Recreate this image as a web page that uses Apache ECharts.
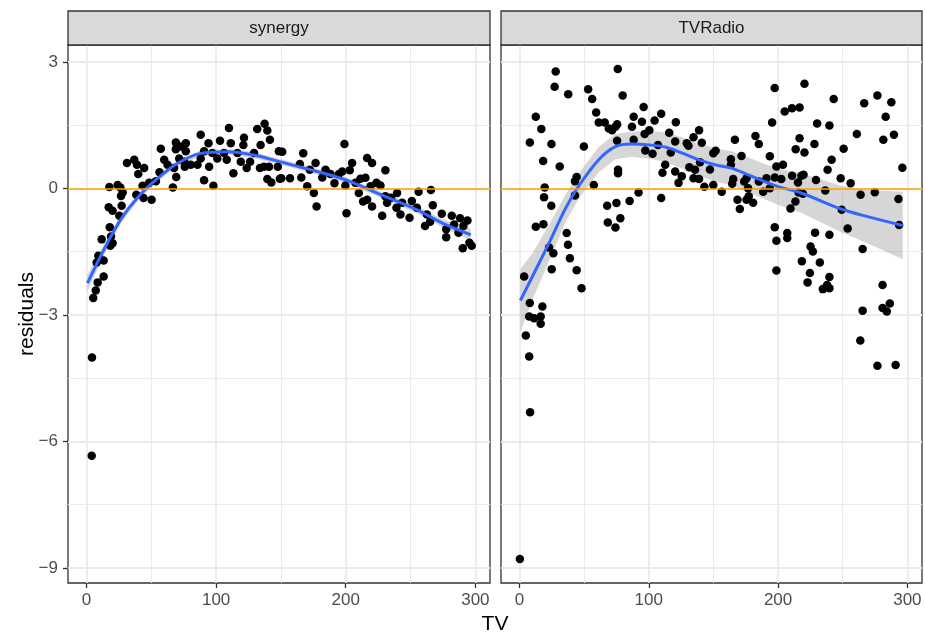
<!DOCTYPE html>
<html><head><meta charset="utf-8">
<script src="https://cdn.jsdelivr.net/npm/echarts@6/dist/echarts.min.js"></script>
<style>html,body{margin:0;padding:0;background:#fff}#c{width:925px;height:633px}</style>
</head><body><div id="c"></div>
<script>
// ---------- data ----------
const panelNames = ['synergy', 'TVRadio'];
const xTicks = [0, 100, 200, 300];
const xMinorTicks = [50, 150, 250];
const yTicks = [-9, -6, -3, 0, 3];
const yMinorTicks = [-7.5, -4.5, -1.5, 1.5];
const refLineValue = 0;

const synergyTV = [5.2,7.1,8.6,13.2,7.8,9.1,13.2,11.7,18.3,20.1,18.9,17.9,17.1,20.1,25.3,27.1,26.6,27.9,17.6,24.0,26.1,31.2,36.8,38.9,44.5,39.9,38.4,44.0,50.2,43.2,48.3,53.5,56.3,57.3,59.9,62.5,66.6,69.2,67.6,68.9,68.9,72.8,76.6,76.6,71.5,75.3,75.8,80.4,85.6,88.1,88.1,90.7,90.7,94.1,94.6,97.1,97.9,100.9,103.0,106.1,108.2,109.9,111.3,113.3,116.4,119.0,121.0,121.5,123.6,126.2,129.2,131.7,134.3,133.8,137.4,139.5,141.5,136.9,140.8,139.5,142.6,148.4,147.6,149.2,151.0,150.3,157.0,167.2,164.6,165.7,170.3,172.3,175.4,177.5,176.7,181.9,184.4,188.2,191.3,194.7,197.3,199.0,200.6,199.7,203.1,204.9,207.5,210.1,211.3,215.2,216.5,220.3,219.1,213.4,216.5,220.3,223.7,226.8,230.6,230.6,228.1,231.9,235.0,239.6,239.1,242.2,243.5,249.2,251.0,254.9,256.2,265.7,262.6,267.2,265.1,261.2,274.1,277.5,277.5,281.8,283.6,288.2,290.8,293.9,290.3,295.4,297.2,287.0,4.0,4.2];
const synergyRes = [-2.60,-2.42,-2.23,-2.09,-1.76,-1.60,-1.71,-1.21,-1.36,-1.30,-1.14,-0.92,-0.45,-0.53,-0.65,-0.41,-0.18,-0.10,0.03,0.08,0.02,0.60,0.68,0.56,0.48,0.34,-0.15,-0.23,-0.27,0.06,0.13,0.17,0.38,0.94,0.68,0.56,0.02,0.27,0.48,1.09,0.93,0.99,1.07,0.88,0.71,0.63,0.51,0.56,0.56,1.27,0.71,0.88,0.19,1.07,0.51,0.84,0.06,0.71,1.13,0.84,0.68,1.43,1.07,0.36,0.84,0.63,1.03,1.20,0.48,0.63,0.84,1.41,1.03,0.48,1.53,1.37,1.15,0.51,0.51,0.22,0.14,0.88,0.51,0.23,0.87,0.24,0.24,0.83,0.58,0.26,0.05,0.44,-0.11,-0.43,0.60,0.26,0.44,0.34,0.12,0.34,0.40,1.05,-0.59,0.07,0.43,0.60,0.13,-0.11,0.23,0.25,0.72,0.60,0.05,-0.31,-0.27,-0.43,0.13,0.07,0.43,-0.19,-0.65,-0.34,-0.22,-0.11,-0.46,-0.62,-0.34,-0.70,-0.30,-0.46,-0.08,-0.04,-0.62,-0.40,-0.79,-0.89,-0.60,-0.97,-1.16,-0.65,-0.86,-0.71,-0.89,-0.76,-1.42,-1.29,-1.36,-1.05,-6.34,-4.01];

const tvradioTV = [4.9,7.5,8.0,11.3,16.4,16.4,17.7,3.6,24.9,22.9,26.2,36.5,37.5,39.0,44.2,48.0,12.6,18.5,24.6,19.0,19.5,42.9,42.9,44.2,57.5,31.1,18.3,8.0,24.7,16.9,12.6,28.0,27.2,37.7,49.8,53.1,56.2,59.3,61.3,65.9,69.1,71.6,74.2,75.5,75.5,76.2,76.2,67.8,75.0,68.3,74.2,78.0,85.2,76.0,79.8,88.3,87.0,88.3,92.1,7.5,8.2,0.3,96.0,94.7,96.8,100.4,97.3,102.9,104.5,109.6,109.6,107.1,112.7,110.6,120.9,115.8,120.4,117.0,120.4,125.5,123.0,129.4,130.7,134.6,138.9,141.0,131.4,135.8,139.6,134.6,138.9,143.0,147.3,149.9,151.7,149.9,156.4,163.5,163.5,166.6,171.7,165.3,164.5,168.6,170.4,175.6,173.8,176.8,175.6,180.7,177.3,182.5,185.1,185.1,188.5,191.0,193.6,193.6,195.4,197.4,197.4,198.7,197.4,198.7,198.7,220.4,205.1,210.8,216.6,216.6,213.6,220.4,228.1,230.2,239.7,243.0,250.7,260.9,266.6,276.8,287.6,283.2,289.6,281.4,296.1,203.8,202.5,210.8,218.0,215.4,219.7,229.3,238.3,241.4,248.4,256.1,236.5,215.9,219.2,213.4,209.6,263.8,274.8,293.1,249.2,253.8,293.6,207.1,207.1,228.6,239.7,225.1,226.9,265.4,218.4,232.3,224.6,222.8,239.7,237.9,234.6,239.7,280.8,265.4,280.8,284.1,286.4,263.6,276.8,290.9];
const tvradioRes = [-3.49,-3.04,-2.72,-3.08,-3.04,-3.21,-2.80,-2.09,-1.92,-1.40,-1.54,-1.06,-1.34,-1.66,-1.94,-2.37,-0.91,-0.85,-0.41,-0.21,0.02,-0.17,0.17,0.27,0.08,0.52,0.65,1.09,1.05,1.41,1.70,2.77,2.41,2.23,0.99,2.35,2.12,1.80,1.56,1.56,1.42,1.38,1.46,1.52,1.13,0.44,0.36,-0.41,-0.35,-0.81,-0.93,-0.71,-0.30,2.83,2.20,1.70,1.46,1.15,-0.10,-3.99,-5.31,-8.79,1.93,1.58,1.29,1.38,0.90,0.82,1.61,1.77,-0.23,1.03,0.56,0.37,1.57,1.32,1.11,0.85,0.40,0.29,0.13,1.07,1.01,1.21,1.38,1.08,0.50,0.44,0.62,0.24,0.22,0.04,0.45,0.83,0.89,0.08,-0.08,0.69,0.56,1.15,0.77,0.22,0.11,-0.27,-0.49,0.24,0.16,0.00,-0.27,-0.34,-0.19,1.24,1.05,0.16,-0.08,0.24,0.76,0.00,1.56,2.38,0.26,0.52,-0.92,-1.24,-1.95,2.48,1.82,1.90,1.92,1.19,0.93,0.85,1.05,1.54,1.49,2.12,0.94,1.29,2.02,2.20,2.04,1.70,1.27,1.15,0.49,0.56,0.22,0.30,0.30,0.14,0.32,0.20,0.44,0.68,0.24,0.12,-0.05,-0.10,-0.13,-0.31,-0.48,-0.15,-0.09,-0.25,-0.51,-0.95,-0.87,-1.06,-1.18,-1.05,-1.10,-1.38,-1.50,-1.44,-1.73,-1.76,-2.01,-2.23,-2.10,-2.29,-2.39,-2.37,-2.29,-2.90,-2.84,-2.92,-2.73,-3.61,-4.21,-4.19];

// smoother (loess fit and confidence band)
const synergySmoothTV = [0.7,14,27,40,55,70,88,109,129,148,168,200,227,255,275,296.4];
const synergyFit = [-2.25,-1.42,-0.71,-0.20,0.24,0.59,0.83,0.87,0.79,0.64,0.48,0.20,-0.15,-0.51,-0.83,-1.10];
const synergyLo  = [-2.45,-1.55,-0.81,-0.28,0.17,0.52,0.76,0.80,0.72,0.57,0.41,0.13,-0.22,-0.59,-0.93,-1.24];
const synergyHi  = [-2.05,-1.29,-0.61,-0.12,0.31,0.66,0.90,0.94,0.86,0.71,0.55,0.27,-0.08,-0.43,-0.73,-0.96];

const tvradioSmoothTV = [0.7,10,22.8,35.7,45.9,61.3,74.2,87,100.4,112.7,125.5,138.3,151.2,163.9,176.8,189.6,199.9,217.9,248.7,269.2,296.4];
const tvradioFit = [-2.66,-2.09,-1.30,-0.47,0.06,0.68,0.99,1.05,1.03,0.98,0.84,0.68,0.56,0.48,0.32,0.16,0.04,-0.11,-0.49,-0.67,-0.88];
const tvradioLo  = [-3.41,-2.64,-1.73,-0.80,-0.24,0.38,0.69,0.75,0.70,0.63,0.47,0.30,0.16,0.08,-0.09,-0.26,-0.39,-0.58,-1.04,-1.30,-1.68];
const tvradioHi  = [-1.91,-1.54,-0.87,-0.14,0.36,0.98,1.29,1.35,1.36,1.33,1.21,1.06,0.96,0.88,0.73,0.58,0.47,0.36,0.06,-0.04,-0.08];

const xLimits = [-14.3, 311.3];
const yLimits = [-9.36, 3.40];

// ---------- layout / style ----------
const FONT = "'Liberation Sans', Arial, Helvetica, sans-serif";
const PANEL_TOP = 45, PANEL_H = 538, STRIP_TOP = 11;
const panelsLayout = [{left: 68, width: 422}, {left: 501, width: 421}];
const DARK = '#333333', GRIDC = '#EBEBEB';

const fmt = v => (v < 0 ? '\u2212' + Math.abs(v) : String(v));

const panelsData = [
  {tv: synergyTV, res: synergyRes, sx: synergySmoothTV, fit: synergyFit, lo: synergyLo, hi: synergyHi},
  {tv: tvradioTV, res: tvradioRes, sx: tvradioSmoothTV, fit: tvradioFit, lo: tvradioLo, hi: tvradioHi}
];

const grid = [], xAxis = [], yAxis = [], series = [], graphic = [];

panelsLayout.forEach((p, i) => {
  grid.push({left: p.left, top: PANEL_TOP, width: p.width, height: PANEL_H,
    show: true, borderColor: DARK, borderWidth: 1.3, backgroundColor: '#fff'});
  // major x axis
  xAxis.push({type: 'value', gridIndex: i, min: xLimits[0], max: xLimits[1], position: 'bottom',
    axisLine: {show: false, onZero: false},
    axisTick: {show: true, customValues: xTicks, length: 5, lineStyle: {color: DARK, width: 1.3}},
    axisLabel: {show: true, customValues: xTicks, formatter: fmt, fontSize: 17, color: '#4D4D4D', fontFamily: FONT, margin: 9},
    splitLine: {show: true, lineStyle: {color: GRIDC, width: 1.8}}});
  // minor x axis (grid lines only)
  xAxis.push({type: 'value', gridIndex: i, min: xLimits[0], max: xLimits[1], position: 'bottom',
    axisLine: {show: false, onZero: false}, axisTick: {show: false, customValues: xMinorTicks},
    axisLabel: {show: false, customValues: xMinorTicks},
    splitLine: {show: true, lineStyle: {color: GRIDC, width: 1.0}}});
  yAxis.push({type: 'value', gridIndex: i, min: yLimits[0], max: yLimits[1], position: 'left',
    axisLine: {show: false, onZero: false},
    axisTick: {show: i === 0, customValues: yTicks, length: 5, lineStyle: {color: DARK, width: 1.3}},
    axisLabel: {show: i === 0, customValues: yTicks, formatter: fmt, fontSize: 17, color: '#4D4D4D', fontFamily: FONT, margin: 10},
    splitLine: {show: true, lineStyle: {color: GRIDC, width: 1.8}}});
  yAxis.push({type: 'value', gridIndex: i, min: yLimits[0], max: yLimits[1], position: 'left',
    axisLine: {show: false, onZero: false}, axisTick: {show: false, customValues: yMinorTicks},
    axisLabel: {show: false, customValues: yMinorTicks},
    splitLine: {show: true, lineStyle: {color: GRIDC, width: 1.0}}});

  const d = panelsData[i];
  const xi = i * 2, yi = i * 2;
  series.push({type: 'custom', xAxisIndex: xi, yAxisIndex: yi, z: 1,
    data: [[d.sx[0], d.fit[0]]],
    renderItem: function (params, api) {
      const pts = [];
      for (let k = 0; k < d.sx.length; k++) pts.push(api.coord([d.sx[k], d.hi[k]]));
      for (let k = d.sx.length - 1; k >= 0; k--) pts.push(api.coord([d.sx[k], d.lo[k]]));
      return {type: 'polygon', shape: {points: pts}, style: {fill: 'rgba(153,153,153,0.4)'}};
    }});
  series.push({type: 'scatter', xAxisIndex: xi, yAxisIndex: yi,
    data: d.tv.map((t, k) => [t, d.res[k]]),
    symbolSize: 8.5, itemStyle: {color: '#000', opacity: 1}, z: 2});
  series.push({type: 'line', xAxisIndex: xi, yAxisIndex: yi, z: 4,
    data: d.sx.map((t, k) => [t, d.fit[k]]),
    smooth: 0.35, showSymbol: false, symbol: 'none',
    lineStyle: {color: '#3366FF', width: 3},
    markLine: {silent: true, symbol: 'none', label: {show: false},
      lineStyle: {color: '#FFA500', width: 1.6, type: 'solid'},
      data: [{yAxis: refLineValue}]}});

  // facet strip
  graphic.push({type: 'rect', shape: {x: p.left, y: STRIP_TOP, width: p.width, height: PANEL_TOP - STRIP_TOP},
    style: {fill: '#D9D9D9', stroke: DARK, lineWidth: 1.3}, z: 10});
  graphic.push({type: 'text', x: p.left + p.width / 2, y: (STRIP_TOP + PANEL_TOP) / 2,
    style: {text: panelNames[i], fill: '#1A1A1A', font: '17px ' + FONT, align: 'center', verticalAlign: 'middle'}, z: 11});
});

// axis titles
graphic.push({type: 'text', x: (panelsLayout[0].left + panelsLayout[1].left + panelsLayout[1].width) / 2, y: 624,
  style: {text: 'TV', fill: '#000', font: '21px ' + FONT, align: 'center', verticalAlign: 'middle'}});
graphic.push({type: 'text', x: 27, y: PANEL_TOP + PANEL_H / 2, rotation: Math.PI / 2,
  style: {text: 'residuals', fill: '#000', font: '21px ' + FONT, align: 'center', verticalAlign: 'middle'}});

const chart = echarts.init(document.getElementById('c'), null, {renderer: 'canvas'});
chart.setOption({backgroundColor: '#fff', animation: false, grid, xAxis, yAxis, series, graphic});
</script></body></html>
